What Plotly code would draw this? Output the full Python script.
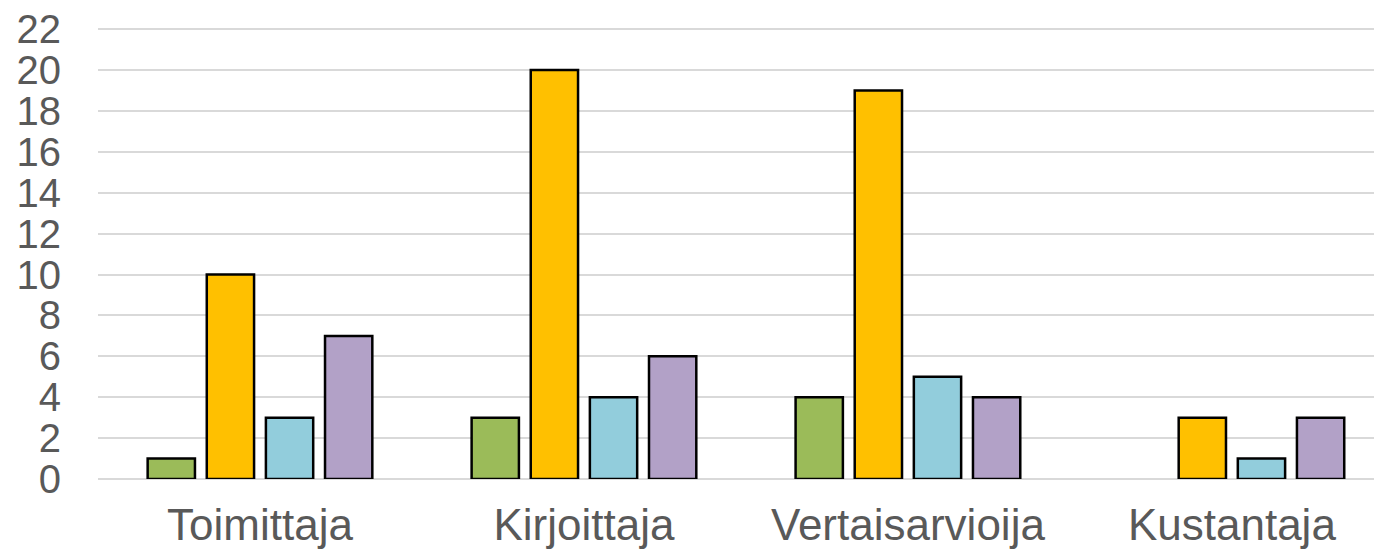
import plotly.graph_objects as go

categories = ["Toimittaja", "Kirjoittaja", "Vertaisarvioija", "Kustantaja"]
series_names = ["Sarja 1", "Sarja 2", "Sarja 3", "Sarja 4"]
values_green = [1, 3, 4, 0]
values_yellow = [10, 20, 19, 3]
values_blue = [3, 4, 5, 1]
values_purple = [7, 6, 4, 3]
colors = ["#9BBB59", "#FFC000", "#92CDDC", "#B2A1C7"]
y_ticks = list(range(0, 23, 2))

fig = go.Figure()
for name, vals, col in zip(series_names,
                           [values_green, values_yellow, values_blue, values_purple],
                           colors):
    fig.add_trace(go.Bar(
        x=categories, y=vals, name=name,
        marker=dict(color=col,
                    line=dict(color="#000000",
                              width=[2.5 if v > 0 else 0 for v in vals])),
    ))

fig.update_layout(
    width=1382, height=549,
    margin=dict(l=90, r=0, t=20, b=78),
    barmode="group", bargap=0.27, bargroupgap=0.2,
    showlegend=False,
    plot_bgcolor="white", paper_bgcolor="white",
    font=dict(family="Liberation Sans, Arial, sans-serif", color="#595959"),
)
fig.update_xaxes(
    range=[-0.5, 3.488], automargin=False,
    tickfont=dict(size=44, color="#595959"),
    showgrid=False, showline=False, zeroline=False,
    ticklabelstandoff=16, ticklabeloverflow="allow",
)
fig.update_yaxes(
    range=[0, 22.06], tickvals=y_ticks, automargin=False,
    tickfont=dict(size=40, color="#595959"),
    showgrid=True, gridcolor="#D9D9D9", gridwidth=2,
    zeroline=True, zerolinecolor="#D9D9D9", zerolinewidth=2,
    showline=False,
    ticklabelstandoff=36, ticklabeloverflow="allow",
)
fig.write_html("out.html")
